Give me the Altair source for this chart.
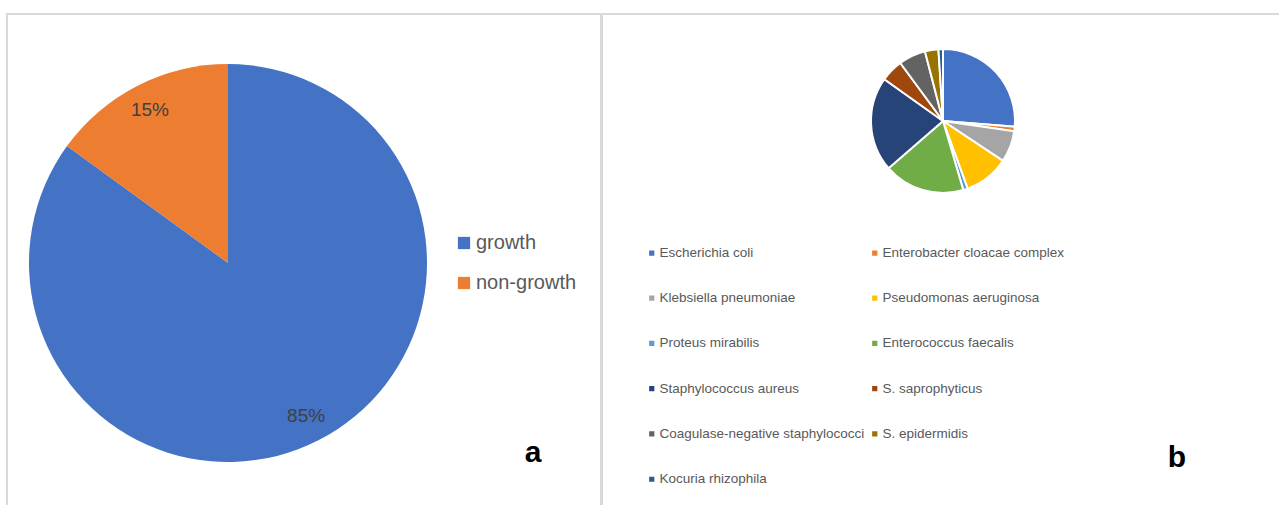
import altair as alt
import pandas as pd

# ---- data ----
groups = ["growth", "non-growth"]
group_pct = [85, 15]
group_labels = ["85%", "15%"]
group_colors = ["#4472C4", "#ED7D31"]

species = [
    "Escherichia coli",
    "Enterobacter cloacae complex",
    "Klebsiella pneumoniae",
    "Pseudomonas aeruginosa",
    "Proteus mirabilis",
    "Enterococcus faecalis",
    "Staphylococcus aureus",
    "S. saprophyticus",
    "Coagulase-negative staphylococci",
    "S. epidermidis",
    "Kocuria rhizophila",
]
species_counts = [26, 1, 7, 10, 1, 18, 21, 5, 6, 3, 1]
species_colors = ["#4472C4", "#ED7D31", "#A5A5A5", "#FFC000", "#5B9BD5", "#70AD47",
                  "#264478", "#9E480E", "#636363", "#997300", "#255E91"]

panel_tags = ["a", "b"]

df_a = pd.DataFrame({"group": groups, "pct": group_pct, "label": group_labels,
                     "idx": list(range(len(groups)))})
df_b = pd.DataFrame({"species": species, "n": species_counts,
                     "idx": list(range(len(species)))})
one = pd.DataFrame({"k": [0]})

# legend fills column by column: reorder so it reads row by row (2 columns)
legend_order = list(range(0, len(species), 2)) + list(range(1, len(species), 2))
legend_domain = [species[i] for i in legend_order]
legend_range = [species_colors[i] for i in legend_order]

FONT = "Liberation Sans"

pie_a = alt.Chart(df_a).mark_arc(radius=199).encode(
    theta=alt.Theta("pct:Q", stack=True),
    order=alt.Order("idx:Q"),
    color=alt.Color("group:N", scale=alt.Scale(domain=groups, range=group_colors),
                    legend=alt.Legend(title=None, orient="none", legendX=454, legendY=233,
                                      symbolType="square", symbolSize=150,
                                      labelFontSize=20, labelFont=FONT,
                                      labelColor="#595959", rowPadding=20,
                                      labelOffset=2, padding=0)),
    x=alt.value(228), y=alt.value(263),
)

text_a = alt.Chart(df_a).mark_text(radius=172, fontSize=19, font=FONT,
                                   color="#404040").encode(
    theta=alt.Theta("pct:Q", stack=True),
    order=alt.Order("idx:Q"),
    text="label:N",
    x=alt.value(228), y=alt.value(263),
)

pie_b = alt.Chart(df_b).mark_arc(radius=72, stroke="white", strokeWidth=2).encode(
    theta=alt.Theta("n:Q", stack=True),
    order=alt.Order("idx:Q"),
    color=alt.Color("species:N",
                    scale=alt.Scale(domain=legend_domain, range=legend_range),
                    legend=alt.Legend(title=None, orient="none", legendX=645, legendY=246,
                                      columns=2, symbolType="square", symbolSize=45,
                                      labelFontSize=13.5, labelFont=FONT,
                                      labelColor="#595959", rowPadding=30.3,
                                      columnPadding=3, labelOffset=1, padding=0,
                                      labelLimit=400)),
    x=alt.value(943), y=alt.value(121),
)

tag_a = alt.Chart(pd.DataFrame({"t": [panel_tags[0]]})).mark_text(
    fontSize=30, fontWeight="bold", font=FONT, color="black").encode(
    text="t:N", x=alt.value(533), y=alt.value(453))
tag_b = alt.Chart(pd.DataFrame({"t": [panel_tags[1]]})).mark_text(
    fontSize=30, fontWeight="bold", font=FONT, color="black").encode(
    text="t:N", x=alt.value(1177), y=alt.value(458))

border_col = "#D9D9D9"
top_line = alt.Chart(one).mark_rule(color=border_col, strokeWidth=2).encode(
    x=alt.value(6), x2=alt.value(1279), y=alt.value(14))
left_line = alt.Chart(one).mark_rule(color=border_col, strokeWidth=2).encode(
    x=alt.value(7), y=alt.value(14), y2=alt.value(505))
mid_line = alt.Chart(one).mark_rule(color=border_col, strokeWidth=3).encode(
    x=alt.value(601.5), y=alt.value(14), y2=alt.value(505))

chart = alt.layer(
    top_line, left_line, mid_line, pie_a, text_a, pie_b, tag_a, tag_b
).resolve_scale(
    theta="independent", color="independent"
).resolve_legend(color="independent").properties(
    width=1279, height=505, autosize=alt.AutoSizeParams(type="none"), padding=0,
    background="white"
).configure_view(stroke=None)

chart.save("out.html", embed_options={"renderer": "svg", "actions": False})
